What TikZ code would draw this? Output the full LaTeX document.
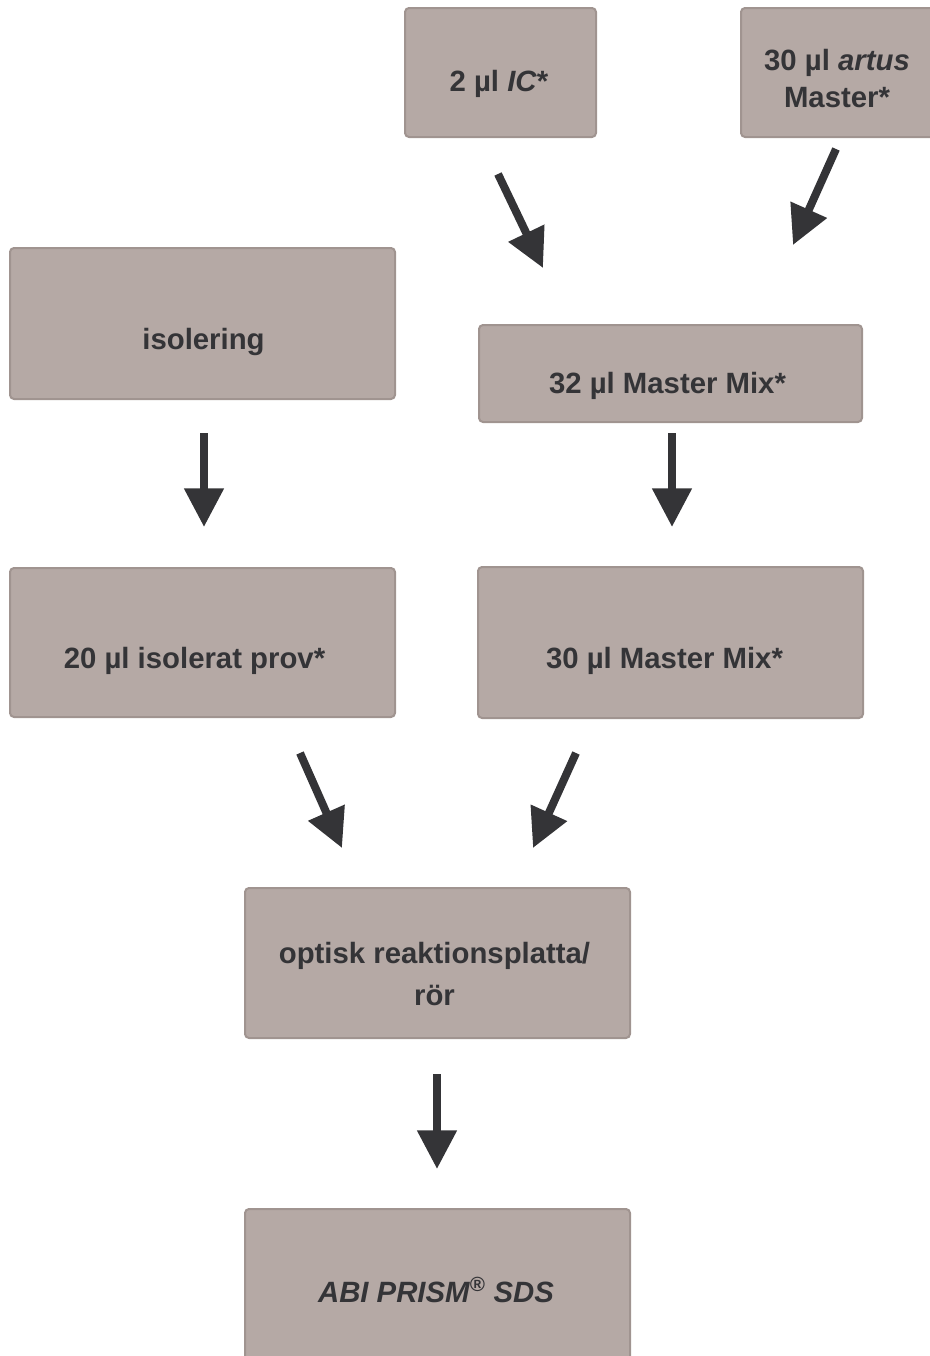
\documentclass[tikz,border=0pt]{standalone}
\usepackage{fontspec}
\setmainfont{Liberation Sans}
\usetikzlibrary{arrows.meta,fit}

\definecolor{boxfill}{RGB}{181,169,165}
\definecolor{boxline}{RGB}{160,148,144}
\definecolor{ink}{RGB}{52,52,55}

\begin{document}
\begin{tikzpicture}[x=0.75pt,y=-0.75pt,
  box/.style={draw=boxline,fill=boxfill,line width=1.5pt,rounded corners=3pt,inner sep=0pt},
  lbl/.style={anchor=base,inner sep=0pt,text=ink,align=center,font=\fontsize{22}{28}\selectfont\bfseries},
  flow/.style={draw=ink,line width=6pt,-{Triangle[length=29pt,width=28.5pt]}}]

\useasboundingbox (0,0) rectangle (930,1356);
\clip (0,0) rectangle (930,1356);

% boxes
\node[box,fit={(405,8) (596,137)}] (icbox) {};
\node[box,fit={(741,8) (945,137)}] (artusbox) {};
\node[box,fit={(10,248) (395,399)}] (isobox) {};
\node[box,fit={(479,325) (862,422)}] (mm32box) {};
\node[box,fit={(10,568) (395,717)}] (provbox) {};
\node[box,fit={(478,567) (863,718)}] (mm30box) {};
\node[box,fit={(245,888) (630,1038)}] (platebox) {};
\node[box,fit={(245,1209) (630,1380)}] (abibox) {};

% texts (base = last line)
\node[lbl] (ic) at (499,91) {2 µl \textit{IC}*};
\node[lbl,font=\fontsize{22}{27.75}\selectfont\bfseries] (artus) at (837,107) {30 µl \textit{artus}\\Master*};
\node[lbl] (iso) at (203.5,349) {isolering};
\node[lbl] (mm32) at (667.5,393) {32 µl Master Mix*};
\node[lbl] (prov) at (194.5,668) {20 µl isolerat prov*};
\node[lbl] (mm30) at (664.5,668) {30 µl Master Mix*};
\node[lbl,font=\fontsize{22}{31.5}\selectfont\bfseries] (plate) at (434.5,1005) {optisk reaktionsplatta/\\rör};
\node[lbl] (abi) at (436,1302) {\textit{ABI PRISM\textsuperscript{®} SDS}};

% arrow ends
\coordinate (ic-s) at (498,174);   \coordinate (ic-e) at (543,268);
\coordinate (artus-s) at (836,149); \coordinate (artus-e) at (793,245);
\coordinate (iso-s) at (204,433);  \coordinate (iso-e) at (204,527);
\coordinate (mm32-s) at (672,433); \coordinate (mm32-e) at (672,527);
\coordinate (prov-s) at (300,753); \coordinate (prov-e) at (342,848);
\coordinate (mm30-s) at (576,753); \coordinate (mm30-e) at (533,848);
\coordinate (plate-s) at (437,1074); \coordinate (plate-e) at (437,1169);

\draw[flow] (ic-s) -- (ic-e);
\draw[flow] (artus-s) -- (artus-e);
\draw[flow] (iso-s) -- (iso-e);
\draw[flow] (mm32-s) -- (mm32-e);
\draw[flow] (prov-s) -- (prov-e);
\draw[flow] (mm30-s) -- (mm30-e);
\draw[flow] (plate-s) -- (plate-e);

\end{tikzpicture}
\end{document}
